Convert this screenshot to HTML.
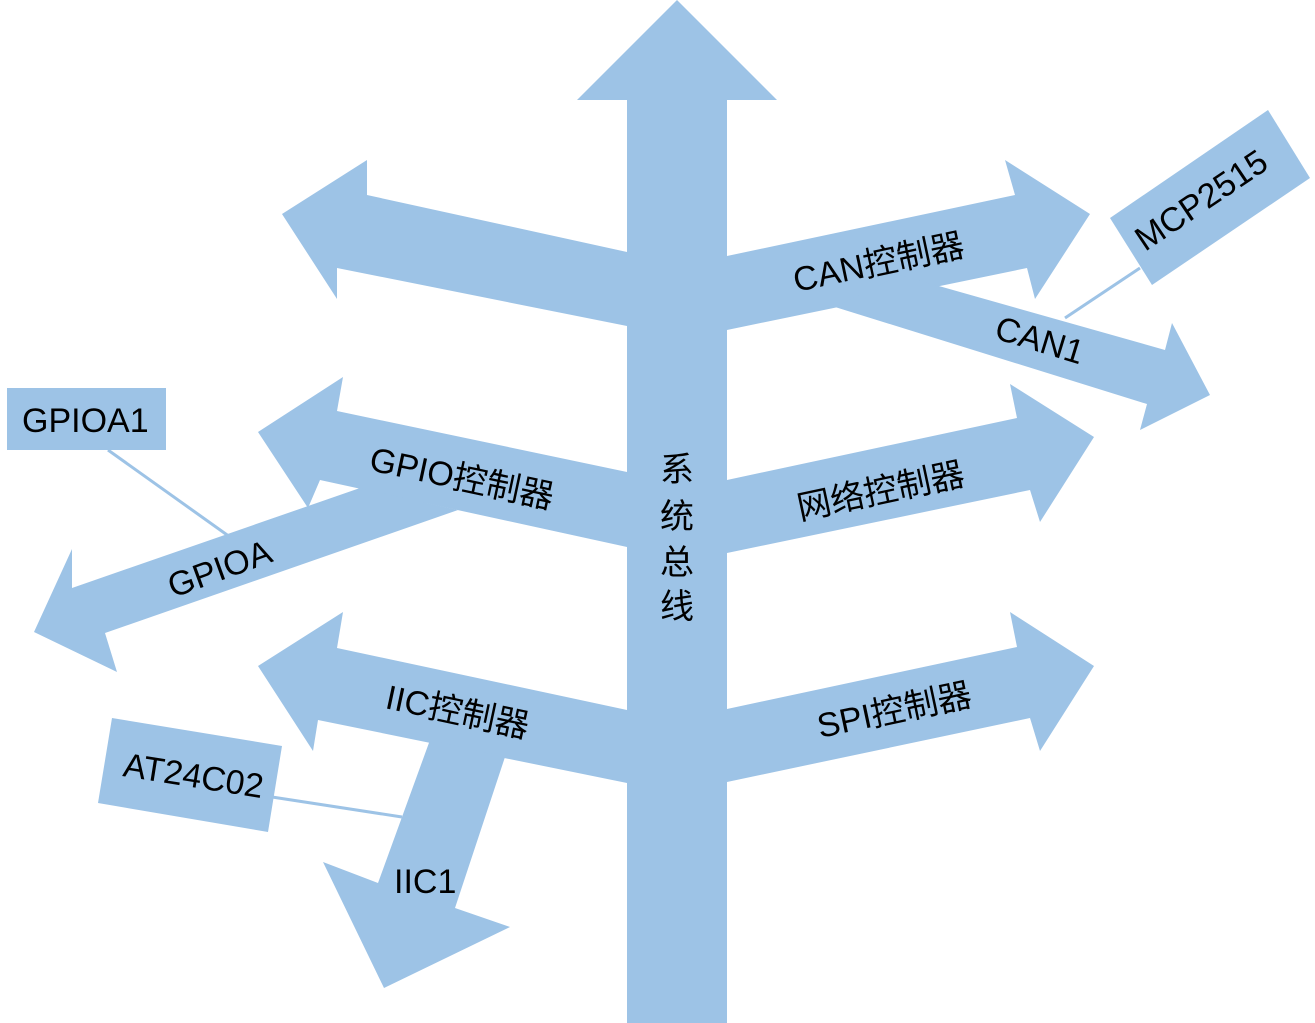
<!DOCTYPE html>
<html><head><meta charset="utf-8"><style>
html,body{margin:0;padding:0;background:#fff;}
svg{display:block;}
text{font-family:"Liberation Sans","Noto Sans CJK SC",sans-serif;font-size:34px;fill:#000;}
</style></head><body>
<svg width="1315" height="1023" viewBox="0 0 1315 1023" xmlns="http://www.w3.org/2000/svg">
<g fill="#9DC3E6">
<polygon points="627,1023 627,100 577,100 677,0 777,100 727,100 727,1023"/>
<polygon points="627,252 367,195 367,160 282,214 337,299 337,268 627,326"/>
<polygon points="727,256 1015,195 1005,160 1090,214 1035,299 1027,268 727,330"/>
<polygon points="900,275 1165,350 1172,323 1210,395 1140,430 1147,404 835,307"/>
<polygon points="1110,218 1268,110 1310,178 1152,285"/>
<polygon points="627,472 337,411 343,377 258,432 308,508 320,480 627,547"/>
<polygon points="360,488 72,588 72,549 34,632 117,672 105,633 458,510"/>
<rect x="7" y="388" width="159" height="62"/>
<polygon points="727,480 1017,418 1010,384 1094,437 1040,522 1030,490 727,553"/>
<polygon points="627,710 337,648 343,612 258,666 313,751 318,720 627,783"/>
<polygon points="727,709 1017,647 1010,612 1094,666 1040,751 1030,718 727,782"/>
<polygon points="430,740 378,883 323,862 384,988 510,927 455,908 505,757"/>
<polygon points="112,718 282,746 268,832 98,803"/>
</g>
<g stroke="#9DC3E6" stroke-width="3">
<line x1="1065" y1="318" x2="1140" y2="268"/>
<line x1="108" y1="450" x2="230" y2="537"/>
<line x1="272" y1="797" x2="402" y2="817"/>
</g>
<text x="22" y="432">GPIOA1</text>
<text transform="translate(796,292) rotate(-12)">CAN控制器</text>
<text transform="translate(993,338) rotate(17)">CAN1</text>
<text transform="translate(1145,252) rotate(-34)">MCP2515</text>
<text transform="translate(368,470) rotate(12)">GPIO控制器</text>
<text transform="translate(173,598) rotate(-20)">GPIOA</text>
<text transform="translate(800,520) rotate(-12)">网络控制器</text>
<text transform="translate(384,708) rotate(12)">IIC控制器</text>
<text transform="translate(820,738) rotate(-12)">SPI控制器</text>
<text x="394" y="893">IIC1</text>
<text transform="translate(122,776) rotate(9)">AT24C02</text>
<text x="660" y="481">系</text>
<text x="660" y="528">统</text>
<text x="660" y="574">总</text>
<text x="660" y="618">线</text>
</svg>
</body></html>
